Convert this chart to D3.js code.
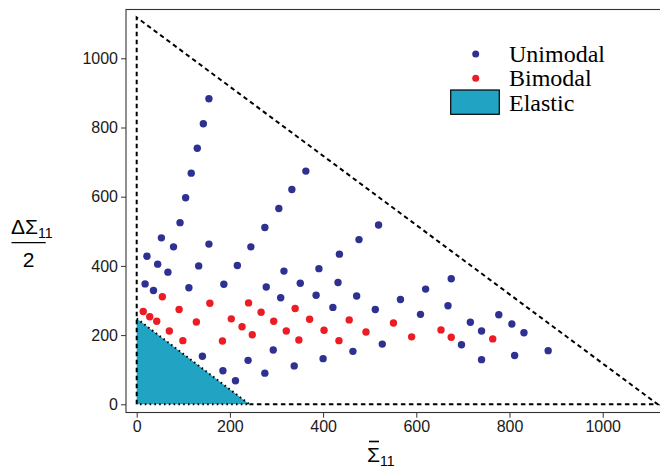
<!DOCTYPE html>
<html><head><meta charset="utf-8">
<script src="https://cdn.jsdelivr.net/npm/d3@7"></script>
<style>body{margin:0;background:#fff} svg{display:block}</style>
</head><body><svg id="c" width="660" height="468"></svg>
<script>
// ---- data ----
const unimodal = [
  [155,883],[143,811],[130,740],[117,668],[105,597],[93,525],
  [363,674],[333,621],[305,566],[275,511],
  [53,481],[79,455],[155,463],[245,455],
  [22,428],[45,405],[67,382],[133,400],[216,401],[316,385],[391,392],
  [18,348],[36,329],[112,337],[187,347],[278,339],[351,350],
  [309,308],[385,315],
  [141,139],[185,97],[212,68],[239,127],[275,90],[293,157],[338,111],
  [519,518],[477,476],[435,434],
  [432,352],[472,313],[421,280],[512,274],[566,303],[620,333],[675,363],
  [609,260],[668,285],[777,259],[716,237],[740,212],[697,172],[740,129],
  [527,174],[464,153],[400,132],
  [805,232],[831,207],[811,141],[883,155]
];
const bimodal = [
  [55,311],[14,268],[28,253],[43,240],[91,274],[70,212],[99,184],[128,238],
  [157,292],[184,183],[203,247],[226,224],[248,201],[240,293],[267,266],
  [294,240],[321,212],[348,186],[340,277],[371,246],[402,214],[434,184],
  [456,244],[492,209],[551,235],[590,195],[653,215],[675,194],[764,189]
];
const elasticRegion = [[0,0],[0,248],[242,0]];
const outerBound = [[0,0],[0,1118],[1118,0]];
const xTicks = [0,200,400,600,800,1000];
const yTicks = [0,200,400,600,800,1000];
const legendLabels = ["Unimodal","Bimodal","Elastic"];

// ---- drawing ----
const svg = d3.select("#c");
const x = d3.scaleLinear().domain([0,1000]).range([136.7,602.7]);
const y = d3.scaleLinear().domain([0,1000]).range([404.3,58.3]);
const blue = "#2e3192", red = "#ec1c24", teal = "#21a4c4";

// frame
svg.append("rect").attr("x",126).attr("y",9.5).attr("width",560).attr("height",403)
  .attr("fill","none").attr("stroke","#333").attr("stroke-width",1.1);

// elastic region
const line = d3.line().x(d=>x(d[0])).y(d=>y(d[1]));
svg.append("path").attr("d", line(elasticRegion)+"Z").attr("fill",teal).attr("stroke","none");
svg.append("path").attr("d", line([elasticRegion[1],elasticRegion[2],elasticRegion[0]]))
  .attr("fill","none").attr("stroke","#000").attr("stroke-width",2)
  .attr("stroke-dasharray","1.6,3.2");

// outer dashed bound
svg.append("path").attr("d", line([outerBound[0],outerBound[1],outerBound[2],[elasticRegion[2][0],0]]))
  .attr("fill","none").attr("stroke","#000").attr("stroke-width",2)
  .attr("stroke-dasharray","4.5,3.5");

// points
svg.append("g").selectAll("circle").data(unimodal).join("circle")
  .attr("cx",d=>x(d[0])).attr("cy",d=>y(d[1])).attr("r",3.7).attr("fill",blue);
svg.append("g").selectAll("circle").data(bimodal).join("circle")
  .attr("cx",d=>x(d[0])).attr("cy",d=>y(d[1])).attr("r",3.7).attr("fill",red);

// axes
const font = "'Liberation Sans', Arial, sans-serif";
const ax = svg.append("g").attr("transform","translate(0,412.7)")
  .call(d3.axisBottom(x).tickValues(xTicks).tickSize(5).tickPadding(3).tickFormat(d3.format("d")));
const ay = svg.append("g").attr("transform","translate(126,0)")
  .call(d3.axisLeft(y).tickValues(yTicks).tickSize(5).tickPadding(3).tickFormat(d3.format("d")));
[ax,ay].forEach(g=>{
  g.select(".domain").remove();
  g.selectAll("line").attr("stroke","#333");
  g.selectAll("text").attr("font-family",font).attr("font-size",16).attr("fill","#1a1a1a");
});

// x label: Sigma with bar, subscript 11
const xs = svg.append("text").attr("x",367).attr("y",462).attr("font-family",font).attr("font-size",21).attr("fill","#000");
xs.append("tspan").text("\u03A3");
xs.append("tspan").attr("font-size",14).attr("dy",4).text("11");
svg.append("line").attr("x1",369).attr("x2",379).attr("y1",441.5).attr("y2",441.5)
  .attr("stroke","#000").attr("stroke-width",1.6);

// y label (fraction)
const yl = svg.append("text").attr("x",11).attr("y",233.5).attr("font-family",font).attr("font-size",21).attr("fill","#000");
yl.append("tspan").text("\u0394\u03A3");
yl.append("tspan").attr("font-size",14).attr("dy",4).text("11");
svg.append("line").attr("x1",11.5).attr("x2",45.7).attr("y1",242.7).attr("y2",242.7).attr("stroke","#000").attr("stroke-width",1.3);
svg.append("text").attr("x",28.5).attr("y",266.7).attr("text-anchor","middle").attr("font-family",font).attr("font-size",21).text("2");

// legend
const serif = "'Liberation Serif', 'Times New Roman', serif";
const lg = svg.append("g");
lg.append("circle").attr("cx",475.7).attr("cy",54).attr("r",3.5).attr("fill",blue);
lg.append("circle").attr("cx",475.7).attr("cy",78.3).attr("r",3.5).attr("fill",red);
lg.append("rect").attr("x",450.7).attr("y",90).attr("width",48.6).attr("height",24.3)
  .attr("fill",teal).attr("stroke","#000").attr("stroke-width",1.2);
const ly = [61.7,85.5,111];
legendLabels.forEach((t,i)=>{
  lg.append("text").attr("x",509).attr("y",ly[i]).attr("font-family",serif)
    .attr("font-size",24).attr("fill","#000").text(t);
});
</script></body></html>
